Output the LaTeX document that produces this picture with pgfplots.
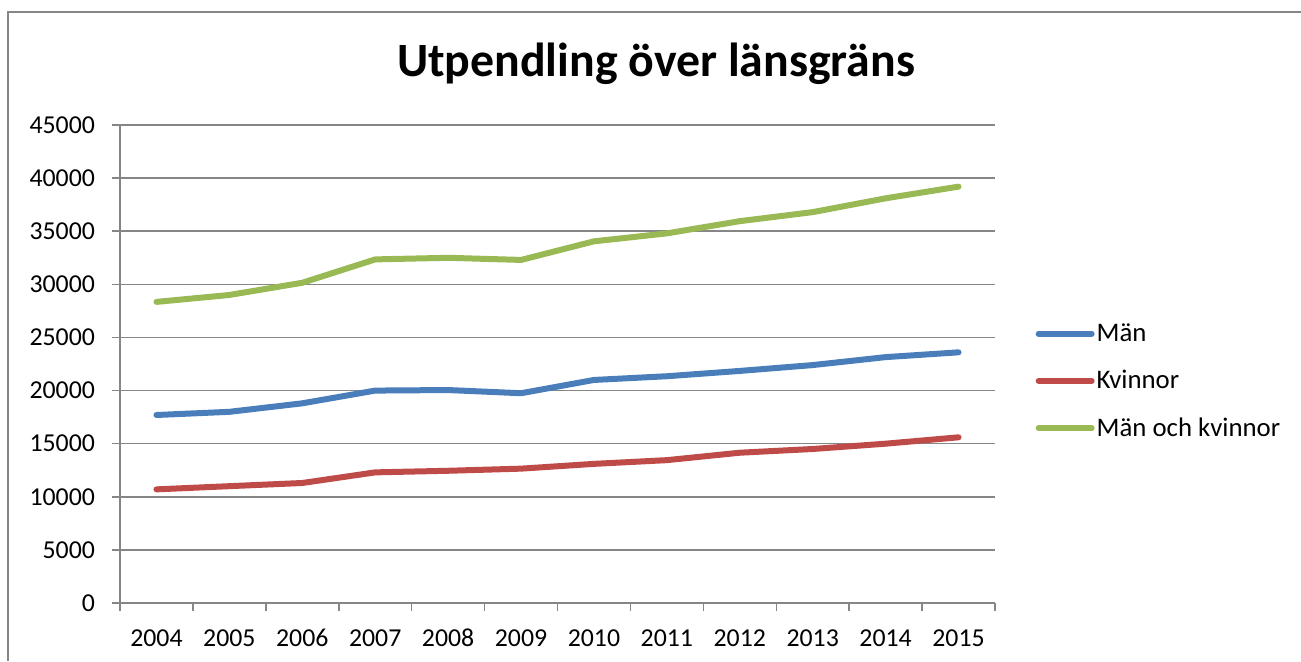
\documentclass[border=0pt]{standalone}
\usepackage{fontspec}
\setmainfont{Carlito}
\usepackage{pgfplots}
\pgfplotsset{compat=1.18}
\definecolor{manblue}{HTML}{4A7EBB}
\definecolor{kvred}{HTML}{BE4B48}
\definecolor{allgreen}{HTML}{98B954}
\definecolor{gridgray}{HTML}{868686}

\begin{document}
\begin{tikzpicture}[x=0.5pt,y=0.5pt]
\useasboundingbox (0,0) rectangle (1301,-661);
% chart frame (cut off at right and bottom)
\draw[gridgray, line width=0.8pt] (8,-661) -- (8,-12) -- (1301,-12);
\node[font=\fontsize{23.9}{28}\selectfont\bfseries] at (656,-64) {Utpendling över länsgräns};
\begin{axis}[
    at={(60pt,-301.5pt)}, anchor=south west,
    scale only axis,
    width=437.5pt, height=239pt,
    xmin=-0.5, xmax=11.5,
    ymin=0, ymax=45000,
    ytick={0,5000,...,45000},
    scaled y ticks=false,
    xtick={-0.5,0.5,...,11.5},
    x tick label as interval,
    xticklabels={2004,2005,2006,2007,2008,2009,2010,2011,2012,2013,2014,2015},
    axis x line*=bottom,
    axis y line*=left,
    axis line style={gridgray, line width=0.75pt, -},
    tick align=outside,
    major tick length=4pt,
    tick style={gridgray, line width=0.75pt},
    ymajorgrids=true,
    xmajorgrids=false,
    grid style={gridgray, line width=0.75pt},
    /pgf/number format/1000 sep={},
    /pgf/number format/assume math mode=true,
    tick label style={font=\fontsize{12.9}{15}\selectfont},
    xticklabel style={yshift=-5pt, text height=9pt, text depth=0pt},
    yticklabel style={xshift=-5pt},
    legend style={
        at={(1.046,0.464)}, anchor=west,
        draw=none, fill=none,
        font=\fontsize{13.4}{16}\selectfont,
        row sep=9pt, inner sep=0pt,
        nodes={inner xsep=1pt},
    },
    legend cell align=left,
    legend image code/.code={\draw[#1] (0pt,0pt) -- (26.5pt,0pt);},
    every axis plot/.append style={line width=3pt, line cap=round, line join=round},
]
\addplot[manblue] coordinates {
    (0,17700) (1,18000) (2,18800) (3,20000) (4,20050) (5,19750)
    (6,21000) (7,21350) (8,21850) (9,22400) (10,23150) (11,23600)
};
\addlegendentry{Män}
\addplot[kvred] coordinates {
    (0,10700) (1,11000) (2,11300) (3,12300) (4,12450) (5,12650)
    (6,13100) (7,13450) (8,14150) (9,14500) (10,15000) (11,15600)
};
\addlegendentry{Kvinnor}
\addplot[allgreen] coordinates {
    (0,28350) (1,29000) (2,30150) (3,32350) (4,32500) (5,32300)
    (6,34050) (7,34800) (8,35950) (9,36800) (10,38100) (11,39200)
};
\addlegendentry{Män och kvinnor}
\end{axis}
\end{tikzpicture}
\end{document}
